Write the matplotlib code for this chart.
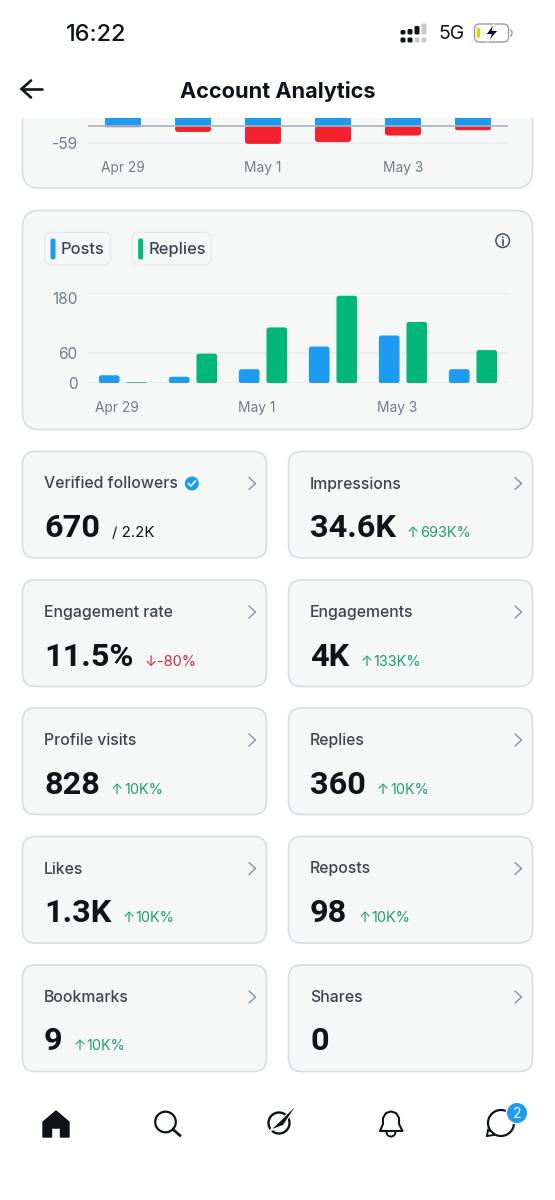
#!/usr/bin/env python3
"""Account analytics phone screen"""
import matplotlib
matplotlib.use("Agg")
import matplotlib.pyplot as plt
from matplotlib.patches import FancyBboxPatch, Rectangle, Circle, Polygon, Arc
from matplotlib.transforms import ScaledTranslation

plt.rcParams['font.family'] = ['Inter', 'DejaVu Sans']

days = ['Apr 29', '', 'May 1', '', 'May 3', '']

# top chart (cut off by the header, positive side is not fully visible)
gain_values = [40, 40, 40, 40, 40, 40]
loss_values = [-5, -21, -61, -55, -33, -15]

posts = [16, 13, 28, 73, 95, 28]
replies = [2, 59, 111, 174, 122, 66]
reply_ticks = [0, 60, 180]

card_labels = ['Verified followers', 'Impressions', 'Engagement rate', 'Engagements',
               'Profile visits', 'Replies', 'Likes', 'Reposts', 'Bookmarks', 'Shares']
card_values = ['670', '34.6K', '11.5%', '4K', '828', '360', '1.3K', '98', '9', '0']
card_deltas = ['', '693K%', '-80%', '133K%', '10K%', '10K%', '10K%', '10K%', '10K%', '']

BLUE = '#1d9bf0'
GREEN = '#00b779'
RED = '#f4212e'
CARD = '#f6f8f8'
EDGE = '#d7dde2'
GRID = '#e8ecee'
DARK = '#0f1419'
LABEL = '#3c4650'
TICK = '#717d88'
UP = '#1f9e73'
DOWN = '#cc2a42'

W, H = 555, 1200


def px(size):
    return size * 0.72


def axes_at(fig, left, top, right, bottom):
    """axes from pixel box"""
    return fig.add_axes([left / W, 1 - bottom / H, (right - left) / W, (bottom - top) / H],
                        facecolor='none', zorder=2)


def round_box(ax, x, y, w, h, r, **kw):
    box = FancyBboxPatch((x, y), w, h, boxstyle=f"round,pad=0,rounding_size={r}", **kw)
    ax.add_patch(box)
    return box


def rounded_bars(ax, xs, heights, width, color, radius_px, px_x, px_y, bottom=0):
    """ax.bar, then swap the rectangles for rounded ones"""
    bars = ax.bar(xs, heights, width=width, bottom=bottom, color=color)
    for p in list(bars):
        x0, y0, w, h = p.get_x(), p.get_y(), p.get_width(), p.get_height()
        if h < 0:
            y0, h = y0 + h, -h
        r = min(radius_px, h * px_y / 2) / px_x
        ax.add_patch(FancyBboxPatch((x0, y0), w, h,
                                    boxstyle=f"round,pad=0,rounding_size={r}",
                                    mutation_aspect=px_x / px_y, fc=color, ec='none', zorder=3))
        p.remove()


def style_chart(ax, ticks, labels):
    for s in ax.spines.values():
        s.set_visible(False)
    ax.set_xlim(-0.5, 5.5)
    ax.set_xticks(range(len(days)))
    ax.set_xticklabels(days, fontsize=px(13.8), color=TICK)
    ax.set_yticks(ticks)
    ax.set_yticklabels(labels, fontsize=px(15.5), color=TICK)
    ax.tick_params(length=0)
    ax.grid(True, axis='y', color=GRID, lw=1.1)
    ax.set_axisbelow(True)


fig = plt.figure(figsize=(W / 100, H / 100), dpi=100, facecolor='white')
bg = fig.add_axes([0, 0, 1, 1], zorder=0)
bg.set_xlim(0, W)
bg.set_ylim(H, 0)
bg.axis('off')

# cards behind charts
round_box(bg, 22.5, 80, 510, 108, 17, fc=CARD, ec=EDGE, lw=1.2)
bg.add_patch(Rectangle((0, 0), W, 118, fc='white', ec='none', zorder=2))
round_box(bg, 22.5, 210.5, 510, 219, 17, fc=CARD, ec=EDGE, lw=1.2)

# status bar
bg.text(66, 35, '16:22', fontsize=px(23.5), color=DARK, va='center', weight='medium', zorder=5)
signal_cols = [400.5, 407.5, 414.5, 421.5]
signal_tops = [30, 29, 26, 23.5]
for i, (sx, st) in enumerate(zip(signal_cols, signal_tops)):
    col = DARK if i < 3 else '#c9c9c9'
    round_box(bg, sx, st, 5, 34.5 - st, 1.5, fc=col, ec='none', zorder=5)
    round_box(bg, sx, 37.5, 5, 5, 1.5, fc=DARK if i < 2 else '#c9c9c9', ec='none', zorder=5)
bg.text(438, 34, '5G', fontsize=px(19.5), color=DARK, va='center', zorder=5)
round_box(bg, 474.5, 24, 34, 18, 5, fc='none', ec='#9b9b9b', lw=1.0, zorder=5)
round_box(bg, 476.8, 28, 3.4, 9.5, 1, fc='#f7c800', ec='none', zorder=5)
bg.add_patch(Arc((510, 33), 4, 6, theta1=-90, theta2=90, color='#9b9b9b', lw=1, zorder=5))
bg.add_patch(Polygon([(494, 23.5), (486, 34.5), (491.5, 34.5), (487.5, 42.5), (498, 30.5), (492, 30.5)],
                     fc='black', ec='white', lw=0.6, zorder=6))

# header
bg.plot([42, 22.5], [89, 89], color=DARK, lw=1.9, zorder=5, solid_capstyle='round')
bg.plot([31, 21.5, 31], [80.5, 89, 97.5], color=DARK, lw=1.9, zorder=5,
        solid_capstyle='round', solid_joinstyle='miter')
bg.text(277.5, 91.5, 'Account Analytics', fontsize=px(21.7), color=DARK, weight='bold',
        ha='center', va='center', zorder=5)

# top chart, cut by header
ax_top = axes_at(fig, 88, 118, 508, 150)
ax_top.set_ylim(-81.5, 25.8)
px_x, px_y = 70, 32 / 107.3
rounded_bars(ax_top, range(6), loss_values, 0.515, RED, 3, px_x, px_y, bottom=0)
ax_top.bar(range(6), gain_values, width=0.515, color=BLUE, zorder=4)
style_chart(ax_top, [-59], ['-59'])
ax_top.axhline(0, color='#a5b3bf', lw=1.2, zorder=5)
ax_top.tick_params(axis='x', pad=8)
ax_top.tick_params(axis='y', pad=7.5)

# posts / replies chart
ax_mid = axes_at(fig, 88, 292.7, 508, 383.3)
ax_mid.set_ylim(0, 180)
px_x, px_y = 70, 90.6 / 180
rounded_bars(ax_mid, [i - 0.197 for i in range(6)], posts, 0.295, BLUE, 2.5, px_x, px_y)
rounded_bars(ax_mid, [i + 0.197 for i in range(6)], replies, 0.295, GREEN, 2.5, px_x, px_y)
style_chart(ax_mid, reply_ticks, [str(t) for t in reply_ticks])
ax_mid.tick_params(axis='x', pad=12.5)
ax_mid.tick_params(axis='y', pad=7.5)
for lab in ax_mid.get_xticklabels():
    lab.set_transform(lab.get_transform() + ScaledTranslation(-6 / 100, 0, fig.dpi_scale_trans))
ax_mid.get_yticklabels()[-1].set_transform(
    ax_mid.get_yticklabels()[-1].get_transform() + ScaledTranslation(0, -5 / 100, fig.dpi_scale_trans))

# legend chips
round_box(bg, 44.5, 232.5, 66, 32.5, 7, fc=CARD, ec='#e6eaed', lw=1)
round_box(bg, 132, 232.5, 79, 32.5, 7, fc=CARD, ec='#e6eaed', lw=1)
round_box(bg, 50.5, 238.5, 5, 21, 2, fc=BLUE, ec='none')
round_box(bg, 138.2, 238.5, 5, 21, 2, fc=GREEN, ec='none')
bg.text(61, 249.8, 'Posts', fontsize=px(16.5), color=LABEL, va='center', weight='medium')
bg.text(148.5, 249.8, 'Replies', fontsize=px(16.5), color=LABEL, va='center', weight='medium')

# info icon
bg.add_patch(Circle((502.7, 240.7), 6.8, fc='none', ec='#46515b', lw=1.1))
bg.plot([502.7, 502.7], [240, 244.5], color='#46515b', lw=1.2)
bg.add_patch(Circle((502.7, 237.2), 0.9, fc='#46515b', ec='none'))

# metric cards
renderer = fig.canvas.get_renderer()
col_x = [22.5, 288.5]
row_y = [451.5, 580, 708, 836.5, 965]
for i, (name, value, delta) in enumerate(zip(card_labels, card_values, card_deltas)):
    x0 = col_x[i % 2]
    y0 = row_y[i // 2]
    round_box(bg, x0, y0, 244, 106.5, 13, fc=CARD, ec=EDGE, lw=1.2)
    lab = bg.text(x0 + 21.5, y0 + 37, name, fontsize=px(15.8), color=LABEL, weight='medium', va='baseline')
    val = bg.text(x0 + 21.5, y0 + 85.5, value, fontsize=px(32.5), color=DARK, weight='bold',
                  family='Roboto', va='baseline')
    bg.plot([x0 + 226.5, x0 + 233, x0 + 226.5], [y0 + 26, y0 + 32, y0 + 38],
            color='#8593a0', lw=1.0, solid_capstyle='round')
    end = val.get_window_extent(renderer).x1
    if i == 0:
        bg.text(end + 12, y0 + 85.5, '/ 2.2K', fontsize=px(15), color=DARK, va='baseline')
        lab_end = lab.get_window_extent(renderer).x1
        bg.add_patch(Circle((lab_end + 14, y0 + 32), 7, fc=BLUE, ec='none'))
        bg.plot([lab_end + 10.5, lab_end + 13, lab_end + 17.5], [y0 + 32, y0 + 34.5, y0 + 29.5],
                color='white', lw=1.2)
    elif delta:
        col = DOWN if delta.startswith('-') else UP
        arrow = '↓' if delta.startswith('-') else '↑'
        bg.text(end + 11, y0 + 85.5, arrow, fontsize=px(14.5), color=col, va='baseline')
        bg.text(end + 24, y0 + 85.5, delta, fontsize=px(14.5), color=col, va='baseline')

# bottom nav
home = [(43, 1122), (56, 1111), (69, 1122), (69, 1137), (60.5, 1137), (60.5, 1128), (51.5, 1128),
        (51.5, 1137), (43, 1137)]
bg.add_patch(Polygon(home, fc=DARK, ec=DARK, lw=1, joinstyle='round'))
bg.add_patch(Circle((165.5, 1122), 10.3, fc='none', ec=DARK, lw=1.6))
bg.plot([173, 180], [1129.5, 1135.5], color=DARK, lw=1.9)
bg.add_patch(Circle((279, 1123), 10.5, fc='none', ec=DARK, lw=1.7))
bg.add_patch(Polygon([(262.5, 1138.5), (294.5, 1107.5), (283, 1125), (272, 1129)], fc=DARK, ec='white', lw=1.5, zorder=3))
bg.add_patch(Polygon([(262.5, 1138.5), (294.5, 1107.5), (283, 1125), (272, 1129)], fc=DARK, ec='none', zorder=4))
bell = [(380, 1131), (383, 1124), (383, 1118), (386, 1113), (391, 1111.5), (396, 1113), (399, 1118),
        (399, 1124), (402.5, 1131)]
bg.add_patch(Polygon(bell, closed=True, fc='none', ec=DARK, lw=1.5, joinstyle='round'))
bg.add_patch(Arc((391, 1132), 9, 9, theta1=0, theta2=180, color=DARK, lw=1.4))
bg.add_patch(Circle((501, 1123), 13, fc='none', ec=DARK, lw=1.6))
bg.add_patch(Polygon([(488, 1130), (487, 1136), (494, 1135), (492, 1132)], fc='white', ec=DARK, lw=1.4, zorder=3))
bg.add_patch(Circle((517, 1113), 11.5, fc='white', ec='none', zorder=4))
bg.add_patch(Circle((517, 1113), 10, fc=BLUE, ec='none', zorder=5))
bg.text(517, 1113.5, '2', fontsize=px(14), color='white', ha='center', va='center', zorder=6)

fig.savefig('out.png', dpi=100)
print("Saved plot: out.png")
